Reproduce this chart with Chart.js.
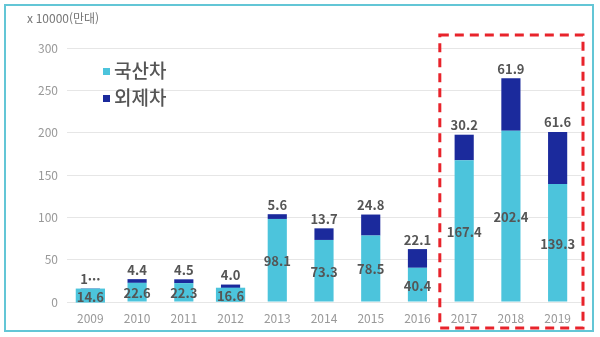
<!DOCTYPE html>
<html lang="ko">
<head>
  <meta charset="UTF-8" />
  <title>국산차 / 외제차</title>
  <script src="https://cdn.jsdelivr.net/npm/chart.js"></script>
  <style>
    html, body { margin: 0; padding: 0; background: #fff; }
    .wrap {
      position: relative;
      width: 600px;
      height: 337px;
    }
    .frame {
      position: absolute;
      left: 4px; top: 4px;
      width: 586px; height: 324px;
      border: 2px solid #63c6d6;
      pointer-events: none;
    }
  </style>
</head>
<body>
  <div class="wrap">
    <canvas id="carChart" width="600" height="337"></canvas>
    <div class="frame"></div>
  </div>

<script>
  const years = ['2009', '2010', '2011', '2012', '2013', '2014', '2015', '2016', '2017', '2018', '2019'];
  const domestic = [14.6, 22.6, 22.3, 16.6, 98.1, 73.3, 78.5, 40.4, 167.4, 202.4, 139.3];
  const foreign = [1.2, 4.4, 4.5, 4.0, 5.6, 13.7, 24.8, 22.1, 30.2, 61.9, 61.6];
  const domesticLabels = ['14.6', '22.6', '22.3', '16.6', '98.1', '73.3', '78.5', '40.4', '167.4', '202.4', '139.3'];
  const foreignLabels = ['1\u00b7\u00b7\u00b7', '4.4', '4.5', '4.0', '5.6', '13.7', '24.8', '22.1', '30.2', '61.9', '61.6'];
  const yTicks = [0, 50, 100, 150, 200, 250, 300];
  const highlightFrom = 8; // 2017..2019

  const lightBlue = '#4cc4dc';
  const navy = '#1b2a9c';
  const fontFamily = '"Noto Sans CJK KR", "Noto Sans", sans-serif';

  // value labels, legend, axis unit and the dashed highlight box
  const extras = {
    id: 'extras',
    afterDatasetsDraw(chart) {
      const ctx = chart.ctx;
      const metaD = chart.getDatasetMeta(0);
      const metaF = chart.getDatasetMeta(1);
      ctx.save();
      ctx.font = 'bold 13px ' + fontFamily;
      ctx.textAlign = 'center';
      ctx.textBaseline = 'middle';
      metaD.data.forEach((bar, i) => {
        const mid = (bar.y + bar.base) / 2;
        const h = bar.base - bar.y;
        if (h < 14) {
          const w = ctx.measureText(domesticLabels[i]).width + 2;
          ctx.fillStyle = lightBlue;
          ctx.fillRect(bar.x - w / 2, mid - 7, w, 14);
        }
        ctx.fillStyle = '#555';
        ctx.fillText(domesticLabels[i], bar.x, mid + 1);
      });
      ctx.textBaseline = 'bottom';
      metaF.data.forEach((bar, i) => {
        ctx.fillStyle = '#555';
        ctx.fillText(foreignLabels[i], bar.x, bar.y - 3);
      });

      // legend inside plot
      const legend = [['국산차', lightBlue], ['외제차', navy]];
      ctx.font = '500 19px ' + fontFamily;
      ctx.textAlign = 'left';
      ctx.textBaseline = 'middle';
      legend.forEach((item, k) => {
        const y = 71 + k * 27;
        ctx.fillStyle = item[1];
        ctx.fillRect(103, y - 3, 7, 7);
        ctx.fillStyle = '#555';
        ctx.fillText(item[0], 114, y);
      });

      // unit label
      ctx.font = '12px ' + fontFamily;
      ctx.fillStyle = '#777';
      ctx.fillText('x 10000(만대)', 27, 18);

      // dashed highlight box around 2017-2019
      const xs = chart.scales.x;
      const step = xs.getPixelForValue(1) - xs.getPixelForValue(0);
      const left = xs.getPixelForValue(highlightFrom) - step / 2 - 1;
      const right = xs.getPixelForValue(years.length - 1) + step / 2 + 2;
      ctx.strokeStyle = '#e8232b';
      ctx.lineWidth = 3;
      ctx.setLineDash([9, 6]);
      ctx.strokeRect(left, 35, right - left, 293);
      ctx.restore();
    }
  };

  new Chart(document.getElementById('carChart'), {
    type: 'bar',
    data: {
      labels: years,
      datasets: [
        { label: '국산차', data: domestic, backgroundColor: lightBlue, stack: 's' },
        { label: '외제차', data: foreign, backgroundColor: navy, stack: 's' }
      ]
    },
    options: {
      responsive: false,
      animation: false,
      layout: { padding: { left: 0, top: 48, right: 19, bottom: 0 } },
      datasets: { bar: { barPercentage: 0.41, categoryPercentage: 1 } },
      plugins: {
        legend: { display: false },
        tooltip: { enabled: false }
      },
      scales: {
        x: {
          stacked: true,
          grid: { display: false },
          border: { display: false },
          ticks: { color: '#999', font: { size: 12, family: fontFamily }, padding: 1 },
          afterFit(scale) { scale.height = 35; }
        },
        y: {
          stacked: true,
          min: 0,
          max: 300,
          afterBuildTicks(scale) { scale.ticks = yTicks.map(v => ({ value: v })); },
          grid: { color: '#e6e6e6', drawTicks: false },
          border: { display: false },
          ticks: { color: '#999', font: { size: 12, family: fontFamily }, padding: 9 },
          afterFit(scale) { scale.width = 67; }
        }
      }
    },
    plugins: [extras]
  });
</script>
</body>
</html>
